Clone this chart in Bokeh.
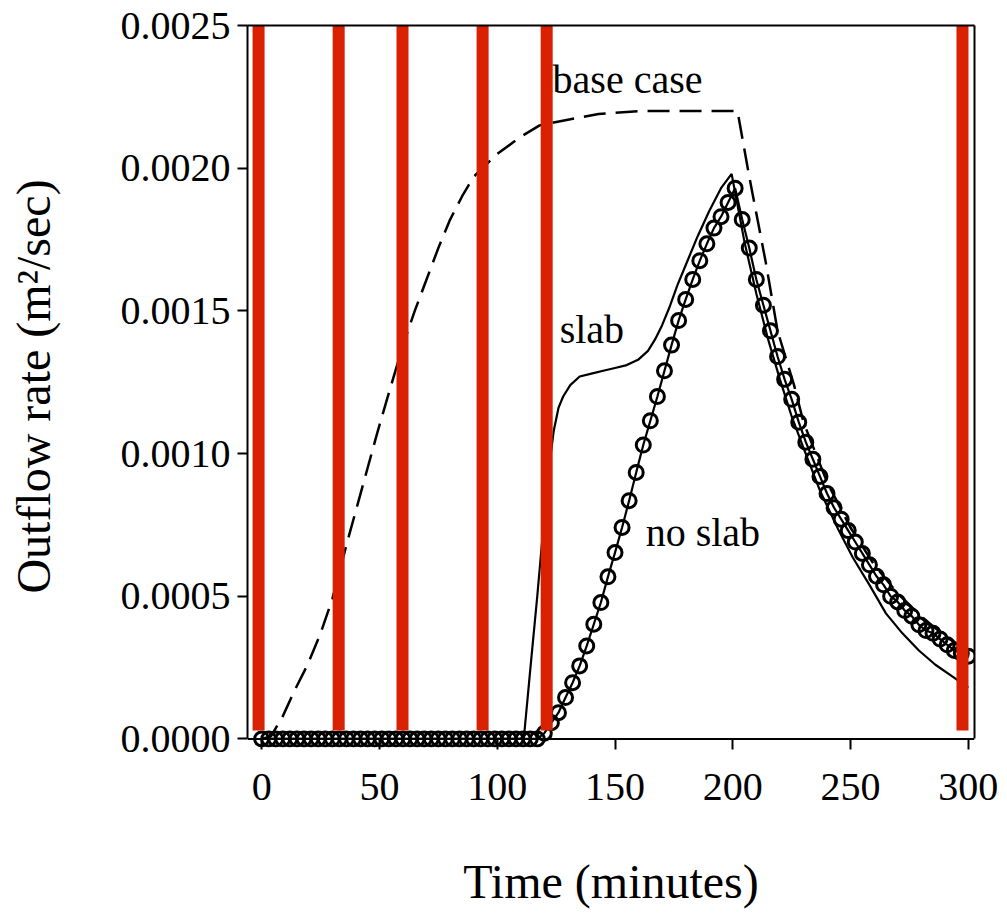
from bokeh.plotting import figure
from bokeh.models import Range1d, LinearAxis, FixedTicker, PrintfTickFormatter, ColumnDataSource, Span
from bokeh.core.properties import value
from bokeh.embed import file_html
from bokeh.resources import INLINE

FONT = "Liberation Serif"

# ---- data ----
base_t = [0, 4, 9, 14, 19.5, 25, 30, 36, 43, 49, 52.5, 60, 65, 70, 75, 80, 85, 90, 100, 110,
          118, 130, 143, 160, 180, 202, 207, 214, 219, 226, 230, 240, 250, 260, 270, 280, 290, 300]
base_q = [0.0, 0.00001, 0.00008, 0.00017, 0.00026, 0.00037, 0.00049, 0.00068, 0.00089, 0.00107,
          0.00117, 0.00138, 0.00150, 0.00161, 0.00172, 0.00182, 0.00190, 0.00197, 0.00205, 0.00211,
          0.00215, 0.00217, 0.00219, 0.00220, 0.00220, 0.00220, 0.00197, 0.00167, 0.00143, 0.00124,
          0.00111, 0.00090, 0.00074, 0.00061, 0.00051, 0.00043, 0.00036, 0.00031]

slab_t = [0, 110, 111.5, 114, 117, 120, 122, 124, 126, 128, 131, 135, 140, 145, 150, 155, 160,
          164, 167, 170, 173, 176.5, 181, 185, 190, 195, 199.5, 205, 210, 215, 220, 225, 230, 237,
          245, 251, 258, 265, 272, 279, 286, 293, 300]
slab_q = [0.0, 0.0, 0.00002, 0.00024, 0.0005, 0.00078, 0.00095, 0.00108, 0.00116, 0.0012,
          0.00124, 0.00127, 0.00128, 0.00129, 0.0013, 0.00131, 0.00133, 0.00136, 0.0014, 0.00145,
          0.00151, 0.00159, 0.00168, 0.00176, 0.00185, 0.00193, 0.00198, 0.00174, 0.00156, 0.0014,
          0.00126, 0.00113, 0.00102, 0.00087, 0.00073, 0.000635, 0.00054, 0.00044, 0.00037,
          0.00031, 0.00026, 0.00022, 0.00018]

noslab_t = list(range(0, 301, 3))
noslab_q = [0.0] * 40 + [
    0.00002, 0.000057, 0.000092, 0.000145, 0.000197, 0.000256, 0.000326, 0.000402, 0.000478,
    0.000568, 0.000653, 0.000741, 0.000835, 0.000934, 0.00103, 0.001115, 0.0012, 0.00129,
    0.00138, 0.001466, 0.00154, 0.00161, 0.001676, 0.001735, 0.00179, 0.00183, 0.00188,
    0.00193, 0.00182, 0.00172, 0.00161, 0.00152, 0.00143, 0.00134, 0.00126, 0.00119, 0.00111,
    0.00104, 0.00098, 0.00092, 0.00086, 0.00081, 0.00077, 0.00073, 0.00069, 0.00065, 0.00061,
    0.00057, 0.00054, 0.00050, 0.00048, 0.00045, 0.00043, 0.00040, 0.00038, 0.00037, 0.00035,
    0.00033, 0.00031, 0.00030, 0.00029]

marker_t = [-1.3, 32.7, 59.8, 93.8, 121.0, 297.5]
marker_bottom = 0.00003
marker_top = 0.0025

x_ticks = [0, 50, 100, 150, 200, 250, 300]
y_ticks = [0.0, 0.0005, 0.0010, 0.0015, 0.0020, 0.0025]

label_text = ["base case", "slab", "no slab"]
label_x = [123.5, 126.5, 163.0]
label_y = [0.00231, 0.001435, 0.000722]

# ---- figure ----
p = figure(width=1007, height=914, output_backend="svg", toolbar_location=None,
           x_range=Range1d(-6, 302.6), y_range=Range1d(-0.00003, 0.0025),
           min_border_left=247, min_border_right=33, min_border_top=25, min_border_bottom=167,
           x_axis_label="Time (minutes)", y_axis_label="Outflow rate (m\u00b2/sec)")
p.grid.visible = False
p.outline_line_color = None
p.background_fill_color = "white"
p.border_fill_color = "white"

for ax in (p.xaxis[0], p.yaxis[0]):
    ax.axis_line_width = 2
    ax.axis_line_color = "black"
    ax.major_tick_line_width = 2
    ax.major_tick_out = 10
    ax.major_tick_in = 0
    ax.minor_tick_line_color = None
    ax.major_label_text_font = FONT
    ax.major_label_text_font_size = "40px"
    ax.major_label_text_color = "black"
    ax.axis_label_text_font = FONT
    ax.axis_label_text_font_size = "48px"
    ax.axis_label_text_font_style = "normal"
    ax.axis_label_text_color = "black"

# bottom axis: line drawn at y = 0 as a span, ticks reach from y = 0 downwards
p.xaxis[0].ticker = FixedTicker(ticks=x_ticks)
p.xaxis[0].axis_line_color = None
p.xaxis[0].major_tick_in = 8
p.xaxis[0].major_tick_out = 2
p.xaxis[0].major_label_standoff = 24
p.xaxis[0].axis_label_standoff = 52
p.add_layout(Span(location=0, dimension="width", line_color="black", line_width=2))

p.yaxis[0].ticker = FixedTicker(ticks=y_ticks)
p.yaxis[0].formatter = PrintfTickFormatter(format="%.4f")
p.yaxis[0].bounds = (0, 0.0025)
p.yaxis[0].major_label_standoff = 7
p.yaxis[0].axis_label_standoff = 58

# top and right frame borders
top_ax = LinearAxis(ticker=FixedTicker(ticks=[]), axis_line_width=2, major_label_standoff=0,
                    major_tick_line_color=None, minor_tick_line_color=None)
right_ax = LinearAxis(ticker=FixedTicker(ticks=[]), axis_line_width=2, major_label_standoff=0,
                      major_tick_line_color=None, minor_tick_line_color=None, bounds=(0, 0.0025))
p.add_layout(top_ax, "above")
p.add_layout(right_ax, "right")

# curves
p.line(base_t, base_q, line_color="black", line_width=2.5, line_dash="22 10")
p.line(slab_t, slab_q, line_color="black", line_width=2.2)
p.line(noslab_t, noslab_q, line_color="black", line_width=2.2)
p.scatter(noslab_t, noslab_q, marker="circle", size=14, fill_color=None,
          line_color="black", line_width=3)

# red markers
p.vbar(x=marker_t, width=5.1, bottom=marker_bottom, top=marker_top,
       fill_color="#d92000", line_color=None)

# labels
src = ColumnDataSource(dict(x=label_x, y=label_y, t=label_text))
p.text(x="x", y="y", text="t", source=src, text_font=value(FONT), text_font_size="40px",
       text_color="black", text_align="left", text_baseline="alphabetic")

open("out.html", "w").write(file_html(p, INLINE))
